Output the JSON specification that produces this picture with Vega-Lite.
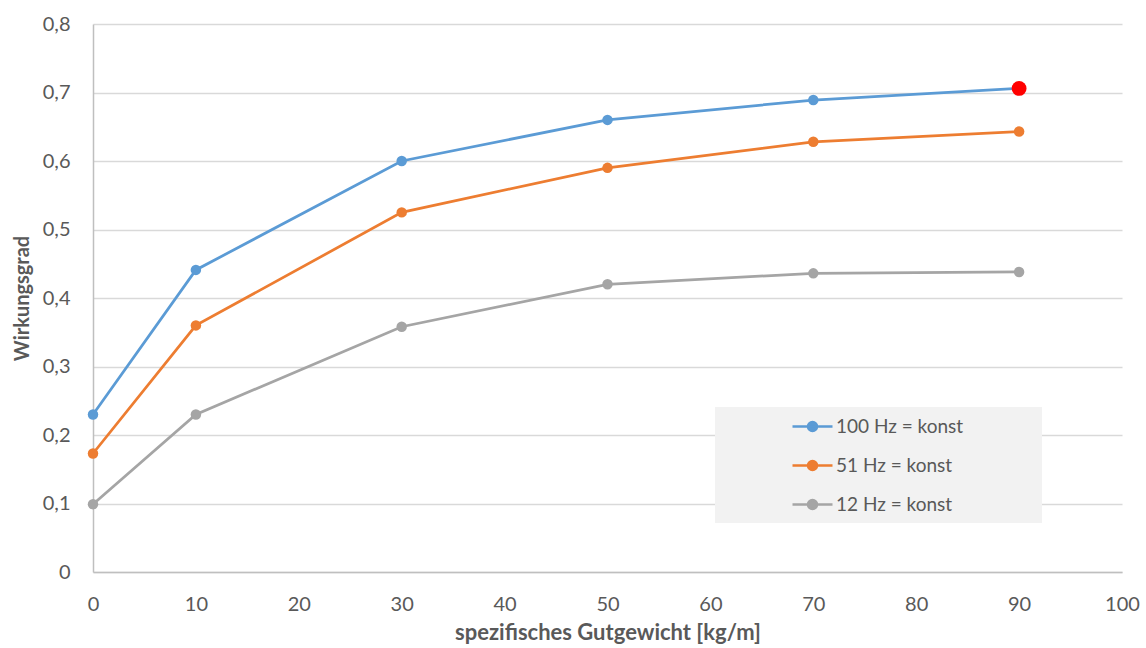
{
  "$schema": "https://vega.github.io/schema/vega-lite/v6.json",
  "width": 1029,
  "height": 548,
  "autosize": {"type": "none"},
  "padding": {"left": 93, "top": 24, "right": 24, "bottom": 76},
  "background": "white",
  "data": {
    "values": [
      {"series": "100 Hz = konst", "x": 0, "y": 0.23},
      {"series": "100 Hz = konst", "x": 10, "y": 0.441},
      {"series": "100 Hz = konst", "x": 30, "y": 0.6},
      {"series": "100 Hz = konst", "x": 50, "y": 0.66},
      {"series": "100 Hz = konst", "x": 70, "y": 0.689},
      {"series": "100 Hz = konst", "x": 90, "y": 0.706},
      {"series": "51 Hz = konst", "x": 0, "y": 0.173},
      {"series": "51 Hz = konst", "x": 10, "y": 0.36},
      {"series": "51 Hz = konst", "x": 30, "y": 0.525},
      {"series": "51 Hz = konst", "x": 50, "y": 0.59},
      {"series": "51 Hz = konst", "x": 70, "y": 0.628},
      {"series": "51 Hz = konst", "x": 90, "y": 0.643},
      {"series": "12 Hz = konst", "x": 0, "y": 0.099},
      {"series": "12 Hz = konst", "x": 10, "y": 0.23},
      {"series": "12 Hz = konst", "x": 30, "y": 0.358},
      {"series": "12 Hz = konst", "x": 50, "y": 0.42},
      {"series": "12 Hz = konst", "x": 70, "y": 0.436},
      {"series": "12 Hz = konst", "x": 90, "y": 0.438}
    ]
  },
  "encoding": {
    "x": {
      "field": "x", "type": "quantitative",
      "scale": {"domain": [0, 100], "nice": false},
      "axis": {
        "title": "spezifisches Gutgewicht [kg/m]",
        "values": [0, 10, 20, 30, 40, 50, 60, 70, 80, 90, 100],
        "grid": false, "ticks": false, "labelFlush": false,
        "domainColor": "#bfbfbf", "domainWidth": 1.5,
        "labelFont": "Lato", "labelFontSize": 20, "labelColor": "#595959", "labelPadding": 22,
        "titleFont": "Lato", "titleFontSize": 22, "titleFontWeight": "bold", "titleColor": "#595959", "titlePadding": 8
      }
    },
    "y": {
      "field": "y", "type": "quantitative",
      "scale": {"domain": [0, 0.8], "nice": false},
      "axis": {
        "title": "Wirkungsgrad",
        "values": [0, 0.1, 0.2, 0.3, 0.4, 0.5, 0.6, 0.7, 0.8],
        "labelExpr": "datum.value == 0 ? '0' : replace(format(datum.value, '.1f'), '.', ',')",
        "grid": true, "gridColor": "#d9d9d9", "gridWidth": 1.5,
        "ticks": false,
        "domainColor": "#bfbfbf", "domainWidth": 1.5,
        "labelFont": "Lato", "labelFontSize": 20, "labelColor": "#595959", "labelPadding": 23,
        "titleFont": "Lato", "titleFontSize": 20, "titleFontWeight": "bold", "titleColor": "#595959", "titlePadding": 10
      }
    },
    "color": {
      "field": "series", "type": "nominal",
      "scale": {
        "domain": ["100 Hz = konst", "51 Hz = konst", "12 Hz = konst"],
        "range": ["#5b9bd5", "#ed7d31", "#a5a5a5"]
      },
      "legend": {
        "title": null,
        "orient": "none",
        "legendX": 622,
        "legendY": 383,
        "fillColor": "#f2f2f2",
        "padding": 8,
        "symbolType": "M-2,0H2M-0.45,0A0.45,0.45,0,1,1,0.45,0A0.45,0.45,0,1,1,-0.45,0Z",
        "symbolSize": 400,
        "symbolStrokeWidth": 2.5,
        "symbolOffset": 78,
        "labelOffset": 12,
        "rowPadding": 17,
        "labelLimit": 400,
        "labelFont": "Lato", "labelFontSize": 19, "labelColor": "#595959",
        "labelExpr": "datum.label + '\u2800\u2800\u2800\u2800\u2800'",
        "encode": {
          "symbols": {
            "update": {
              "fill": {"signal": "scale('color', datum.value)"},
              "stroke": {"signal": "scale('color', datum.value)"}
            }
          }
        }
      }
    }
  },
  "layer": [
    {
      "mark": {"type": "line", "strokeWidth": 2.75},
      "encoding": {"order": {"field": "x"}}
    },
    {
      "mark": {"type": "point", "filled": true, "size": 110, "opacity": 1}
    },
    {
      "transform": [{"filter": "datum.series == '100 Hz = konst' && datum.x == 90"}],
      "mark": {"type": "point", "filled": true, "size": 220, "opacity": 1, "color": "#ff0000"},
      "encoding": {"color": {"value": "#ff0000"}}
    }
  ],
  "config": {
    "view": {"stroke": null}
  }
}
